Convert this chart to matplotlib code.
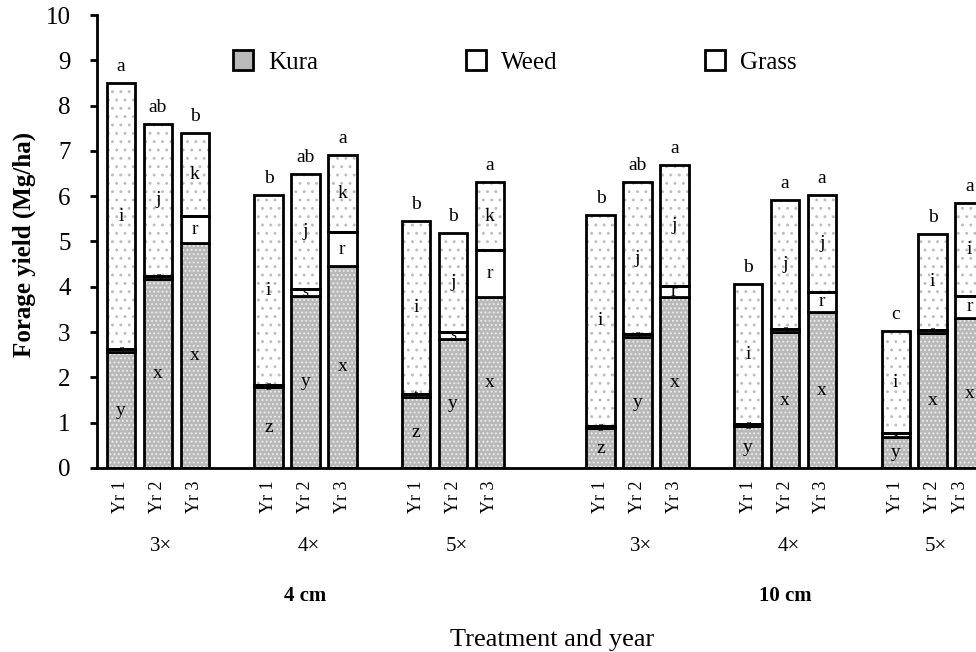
import matplotlib
matplotlib.use("Agg")
import matplotlib.pyplot as plt
from matplotlib.patches import Patch
import numpy as np

plt.rcParams['font.family'] = ['Liberation Serif', 'DejaVu Serif']
plt.rcParams['hatch.linewidth'] = 0.9

# slot positions of the 18 bars (gaps between treatment groups)
slots = [0, 1, 2, 4, 5, 6, 8, 9, 10, 13, 14, 15, 17, 18, 19, 21, 22, 23]
years = ["Yr 1", "Yr 2", "Yr 3"] * 6
freq_labels = ["3\u00d7", "4\u00d7", "5\u00d7", "3\u00d7", "4\u00d7", "5\u00d7"]
height_labels = ["4 cm", "10 cm"]

# forage yield components (Mg/ha)
kura = [2.55, 4.17, 4.97, 1.78, 3.80, 4.46, 1.57, 2.85, 3.78,
        0.88, 2.90, 3.77, 0.92, 3.00, 3.44, 0.68, 2.98, 3.31]
weed = [0.07, 0.07, 0.59, 0.05, 0.15, 0.74, 0.06, 0.15, 1.03,
        0.05, 0.05, 0.25, 0.05, 0.07, 0.45, 0.09, 0.07, 0.49]
grass = [5.88, 3.36, 1.84, 4.19, 2.53, 1.70, 3.82, 2.19, 1.50,
         4.65, 3.37, 2.66, 3.09, 2.85, 2.14, 2.25, 2.12, 2.05]

top_letters = ["a", "ab", "b", "b", "ab", "a", "b", "b", "a",
               "b", "ab", "a", "b", "a", "a", "c", "b", "a"]
grass_letters = ["i", "j", "k", "i", "j", "k", "i", "j", "k",
                 "i", "j", "j", "i", "j", "j", "i", "i", "i"]
weed_letters = ["s", "s", "r", "s", "s", "r", "t", "s", "r",
                "s", "s", "r", "s", "s", "r", "s", "s", "r"]
kura_letters = ["y", "x", "x", "z", "y", "x", "z", "y", "x",
                "z", "y", "x", "y", "x", "x", "y", "x", "x"]

x = np.array(slots, dtype=float)
kura = np.array(kura)
weed = np.array(weed)
grass = np.array(grass)
w = 0.77

fig = plt.figure(figsize=(9.76, 6.52), dpi=100)
ax = fig.add_axes([97 / 976, 184 / 652, 902 / 976, 453 / 652])

kura_face = dict(color="#b9b9b9", edgecolor="#ececec", hatch="....", linewidth=0)
grass_face = dict(color="white", edgecolor="#bdbdbd", hatch="..", linewidth=0)
outline = dict(fill=False, edgecolor="black", linewidth=2.0)

b2 = kura + weed
ax.bar(x, kura, w, **kura_face)
ax.bar(x, grass, w, bottom=b2, **grass_face)
ax.bar(x, kura, w, **outline)
ax.bar(x, weed, w, bottom=kura, color="white", edgecolor="black", linewidth=2.0)
ax.bar(x, grass, w, bottom=b2, **outline)

total = b2 + grass
for i in range(len(x)):
    ax.annotate(top_letters[i], (x[i], total[i]), xytext=(0, 12),
                textcoords="offset points", ha="center", va="center", fontsize=14)
    ax.text(x[i], b2[i] + grass[i] / 2, grass_letters[i], ha="center", va="center", fontsize=14)
    ax.text(x[i], kura[i] + weed[i] / 2, weed_letters[i], ha="center", va="center",
            fontsize=14 if weed[i] > 0.2 else 11)
    ax.text(x[i], kura[i] / 2, kura_letters[i], ha="center", va="center", fontsize=14)

ax.set_ylim(0, 10)
ax.set_xlim(-0.65, 23.8)
ax.set_yticks(range(0, 11))
ax.tick_params(axis="y", direction="out", length=5, width=2, pad=14, labelsize=18)
ax.set_xticks(x)
ax.set_xticklabels(years, rotation=90, fontsize=13)
ax.tick_params(axis="x", length=0, pad=9)
# keep the last year label just inside the right edge
ax.get_xticklabels()[-1].set_horizontalalignment("right")
for s in ["top", "right"]:
    ax.spines[s].set_visible(False)
ax.spines["left"].set_linewidth(2)
ax.spines["bottom"].set_linewidth(2)

tr = ax.get_xaxis_transform()
group_centres = [1, 5, 9, 14, 18, 22]
for gx, lab in zip(group_centres, freq_labels):
    ax.text(gx + 0.1, -0.174, lab, transform=tr, ha="center", va="center", fontsize=15)
for gx, lab in zip([5, 18], height_labels):
    ax.text(gx, -0.283, lab, transform=tr, ha="center", va="center", fontsize=15, fontweight="bold")
ax.text(11.7, -0.38, "Treatment and year", transform=tr, ha="center", va="center", fontsize=19)

fig.text(24 / 976, 1 - 244 / 652, "Forage yield (Mg/ha)", rotation=90,
         ha="center", va="center", fontsize=18, fontweight="bold")

handles = [
    (Patch(**kura_face), Patch(facecolor="none", edgecolor="black", linewidth=2)),
    Patch(facecolor="white", edgecolor="black", linewidth=2),
    (Patch(**grass_face), Patch(facecolor="none", edgecolor="black", linewidth=2)),
]
ax.legend(handles, ["Kura", "Weed", "Grass"], ncol=3, frameon=False, fontsize=18,
          loc="center left", bbox_to_anchor=(233 / 976, 1 - 62 / 652),
          bbox_transform=fig.transFigure, borderpad=0, borderaxespad=0,
          handlelength=0.8, handleheight=0.8, handletextpad=0.6, columnspacing=5.9)

fig.savefig("out.png", dpi=100)
